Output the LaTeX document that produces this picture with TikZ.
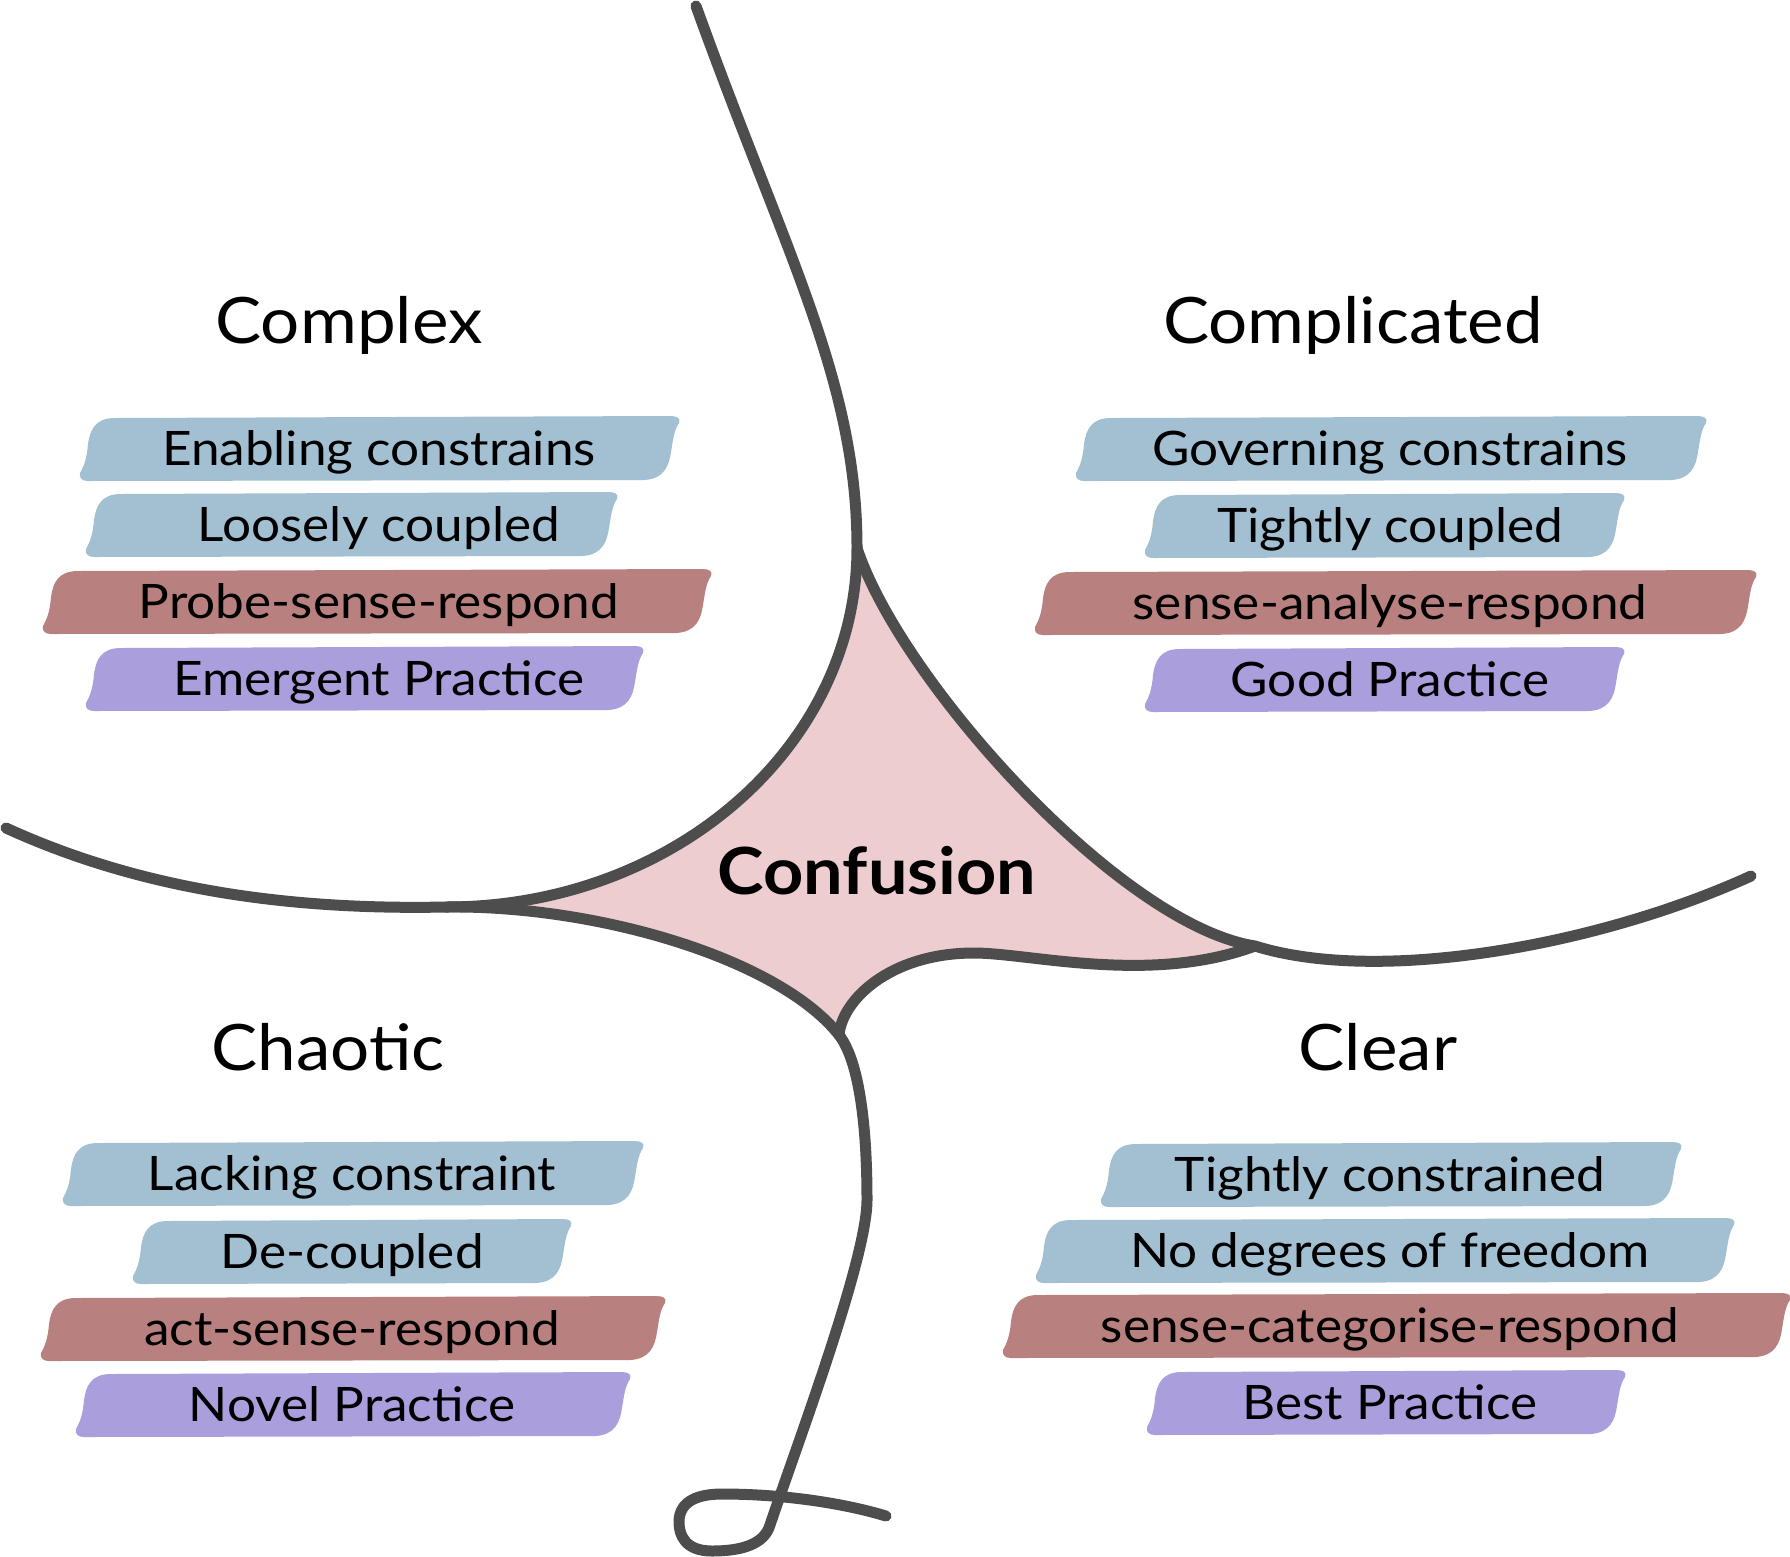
\documentclass[tikz,border=0pt]{standalone}
\usepackage{fontspec}
\setmainfont{Lato}[FakeStretch=1.08]
\definecolor{linegrey}{RGB}{77,77,77}
\definecolor{confpink}{RGB}{237,205,207}
\definecolor{tagblue}{RGB}{162,192,210}
\definecolor{tagred}{RGB}{184,128,126}
\definecolor{tagpurple}{RGB}{170,158,220}
\tikzset{
  border/.style={draw=linegrey, line width=11pt, line cap=round, line join=round},
  quadtitle/.style={anchor=base, inner sep=0pt, font=\fontsize{64}{77}\selectfont},
  tagtext/.style={anchor=base, inner sep=0pt, font=\fontsize{47.5}{57}\selectfont},
}
% brush stroke label: name, colour, left x, right x, top y, text x, text
\newcommand\tagline[7]{%
  \fill[#2] (#3+8,#5+65) -- (#4-35,#5+64)
    .. controls (#4-15,#5+63) and (#4-10,#5+50) .. (#4-8,#5+36)
    .. controls (#4-6,#5+24) and (#4-5,#5+14) .. (#4,#5+7)
    .. controls (#4+2,#5+2) and (#4-2,#5) .. (#4-9,#5)
    -- (#3+35,#5+2)
    .. controls (#3+15,#5+2) and (#3+10,#5+14) .. (#3+8,#5+28)
    .. controls (#3+7,#5+42) and (#3+4,#5+50) .. (#3,#5+57)
    .. controls (#3-1,#5+62) and (#3+2,#5+65) .. (#3+8,#5+65) -- cycle;
  \node[tagtext] (#1) at (#6,#5+49) {#7};}

\begin{document}
\begin{tikzpicture}[x=1pt, y=-1pt]
  \useasboundingbox (0,0) rectangle (1790,1556);
  \coordinate (top) at (696,6);
  \coordinate (knee) at (857,548);
  \coordinate (leftjoin) at (446,907);
  \coordinate (west) at (6,828);
  \coordinate (rightcusp) at (1255,946);
  \coordinate (east) at (1751,876);
  \coordinate (lowcusp) at (839,1035);
  \coordinate (crest) at (974,953);
  \coordinate (stem) at (867,1200);
  \coordinate (loopin) at (770,1525);
  \coordinate (tail) at (886,1516);

  % confusion area
  \fill[confpink] (knee) .. controls (857,747) and (673,907) .. (leftjoin)
    .. controls (600,905) and (780,960) .. (lowcusp)
    .. controls (842,1000) and (890,953) .. (crest)
    .. controls (1030,953) and (1150,985) .. (rightcusp)
    .. controls (1120,925) and (900,680) .. (knee) -- cycle;

  % boundaries
  \draw[border] (top) .. controls (786,256) and (857,380) .. (knee)
    .. controls (857,747) and (673,907) .. (leftjoin)
    .. controls (296,910) and (146,892) .. (west);
  \draw[border] (knee) .. controls (900,680) and (1120,925) .. (rightcusp)
    .. controls (1380,985) and (1600,945) .. (east);
  \draw[border] (leftjoin) .. controls (600,905) and (780,960) .. (lowcusp)
    .. controls (860,1062) and (867,1130) .. (stem)
    .. controls (867,1260) and (795,1450) .. (loopin)
    .. controls (764,1545) and (740,1551) .. (712,1551)
    .. controls (685,1551) and (679,1535) .. (679,1522)
    .. controls (679,1500) and (700,1494) .. (722,1494)
    .. controls (790,1494) and (850,1505) .. (tail);
  \draw[border] (lowcusp) .. controls (842,1000) and (890,953) .. (crest)
    .. controls (1030,953) and (1150,985) .. (rightcusp);

  \node[anchor=base, inner sep=0pt, font=\bfseries\fontsize{65}{78}\selectfont]
    (confusion) at (877,894) {Confusion};

  % complex
  \node[quadtitle] (complex) at (349,343) {Complex};
  \tagline{enabling}{tagblue}{80}{679}{416}{379}{Enabling constrains}
  \tagline{loosely}{tagblue}{86}{617}{492}{379}{Loosely coupled}
  \tagline{probe}{tagred}{43}{711}{569}{379}{Probe-sense-respond}
  \tagline{emergent}{tagpurple}{86}{643}{646}{379}{Emergent Practice}

  % complicated
  \node[quadtitle] (complicated) at (1353,343) {Complicated};
  \tagline{governing}{tagblue}{1076}{1706}{416}{1390}{Governing constrains}
  \tagline{tightly}{tagblue}{1145}{1624}{493}{1390}{Tightly coupled}
  \tagline{analyse}{tagred}{1035}{1756}{570}{1390}{sense-analyse-respond}
  \tagline{good}{tagpurple}{1145}{1624}{647}{1390}{Good Practice}

  % chaotic
  \node[quadtitle] (chaotic) at (328,1070) {Chaotic};
  \tagline{lacking}{tagblue}{63}{643}{1141}{352}{Lacking constraint}
  \tagline{decoupled}{tagblue}{133}{571}{1219}{352}{De-coupled}
  \tagline{act}{tagred}{41}{665}{1296}{352}{act-sense-respond}
  \tagline{novel}{tagpurple}{76}{630}{1372}{352}{Novel Practice}

  % clear
  \node[quadtitle] (clear) at (1378,1070) {Clear};
  \tagline{constrained}{tagblue}{1101}{1681}{1142}{1390}{Tightly constrained}
  \tagline{freedom}{tagblue}{1036}{1734}{1218}{1390}{No degrees of freedom}
  \tagline{categorise}{tagred}{1003}{1790}{1293}{1390}{sense-categorise-respond}
  \tagline{best}{tagpurple}{1147}{1625}{1370}{1390}{Best Practice}
\end{tikzpicture}
\end{document}
